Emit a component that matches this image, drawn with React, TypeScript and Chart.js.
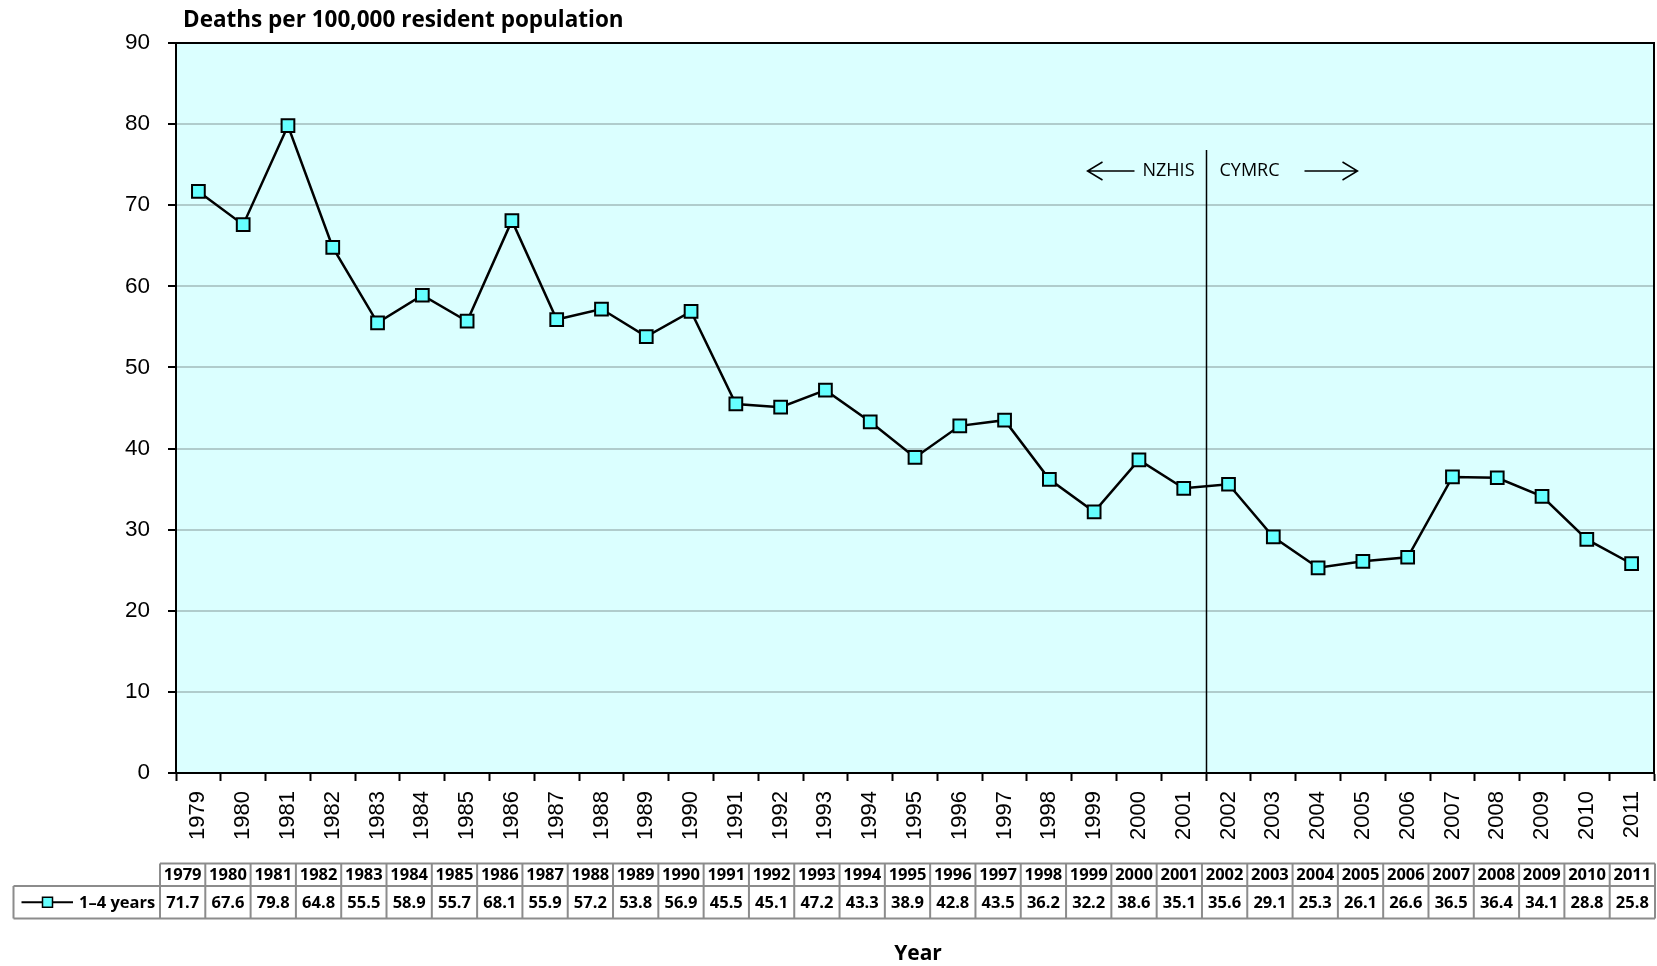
import React, { useEffect, useRef } from 'react';
import { Chart, registerables } from 'chart.js';

Chart.register(...registerables);

const years = ['1979','1980','1981','1982','1983','1984','1985','1986','1987','1988','1989','1990','1991','1992','1993','1994','1995','1996','1997','1998','1999','2000','2001','2002','2003','2004','2005','2006','2007','2008','2009','2010','2011'];
const deathRates = [71.7,67.6,79.8,64.8,55.5,58.9,55.7,68.1,55.9,57.2,53.8,56.9,45.5,45.1,47.2,43.3,38.9,42.8,43.5,36.2,32.2,38.6,35.1,35.6,29.1,25.3,26.1,26.6,36.5,36.4,34.1,28.8,25.8];
const seriesLabel = '1–4 years';
const yMin = 0;
const yMax = 90;
const yStep = 10;
const chartTitle = 'Deaths per 100,000 resident population';
const xTitle = 'Year';
const leftSource = 'NZHIS';
const rightSource = 'CYMRC';
const splitAfterYear = '2001';

const BOLD = '"Open Sans", "Noto Sans", sans-serif';
const TICK = '"Liberation Sans", Arial, sans-serif';

const decorPlugin = {
  id: 'decor',
  beforeDraw(chart: any) {
    const { ctx, chartArea: a } = chart;
    ctx.save();
    ctx.fillStyle = '#dbffff';
    ctx.fillRect(a.left, a.top, a.right - a.left, a.bottom - a.top);
    ctx.restore();
  },
  beforeDatasetsDraw(chart: any) {
    const { ctx, chartArea: a, scales } = chart;
    const xs = scales.x;
    const i = years.indexOf(splitAfterYear);
    const sx = Math.round((xs.getPixelForValue(i) + xs.getPixelForValue(i + 1)) / 2) + 0.5;
    ctx.save();
    ctx.strokeStyle = '#000';
    ctx.lineWidth = 1.5;
    ctx.beginPath();
    ctx.moveTo(sx, 150);
    ctx.lineTo(sx, a.bottom);
    ctx.stroke();
    ctx.fillStyle = '#000';
    ctx.font = '18px "Open Sans", sans-serif';
    ctx.textBaseline = 'middle';
    const ty = 171;
    ctx.textAlign = 'right';
    ctx.fillText(leftSource, sx - 12, ty);
    ctx.textAlign = 'left';
    ctx.fillText(rightSource, sx + 13, ty);
    ctx.lineWidth = 1.5;
    const drawArrow = (x1: number, x2: number, headAtX2: boolean) => {
      ctx.beginPath();
      ctx.moveTo(x1, ty);
      ctx.lineTo(x2, ty);
      const hx = headAtX2 ? x2 : x1;
      const d = headAtX2 ? -1 : 1;
      ctx.moveTo(hx + d * 15, ty - 9);
      ctx.lineTo(hx, ty);
      ctx.lineTo(hx + d * 15, ty + 9);
      ctx.stroke();
    };
    drawArrow(sx - 119, sx - 72, false);
    drawArrow(sx + 98, sx + 151, true);
    ctx.restore();
  },
  afterDraw(chart: any) {
    const { ctx, chartArea: a, data } = chart;
    ctx.save();
    ctx.strokeStyle = '#000';
    ctx.lineWidth = 2;
    ctx.strokeRect(a.left, a.top, a.right - a.left, a.bottom - a.top);
    ctx.fillStyle = '#000';
    ctx.font = 'bold 22.5px ' + BOLD;
    ctx.textAlign = 'left';
    ctx.textBaseline = 'middle';
    ctx.fillText(chartTitle, 183, 20.5);
    ctx.font = 'bold 21px ' + BOLD;
    ctx.textAlign = 'center';
    ctx.fillText(xTitle, (a.left + a.right) / 2 + 3, 954.5);
    const labels: string[] = data.labels;
    const vals: number[] = data.datasets[0].data;
    const n = labels.length;
    const tLeft = a.left - 16;
    const tRight = a.right + 1;
    const colW = (tRight - tLeft) / n;
    const r0 = 863.5, r1 = 886, r2 = 918.5;
    const legL = 13.5;
    ctx.strokeStyle = '#8c8c8c';
    ctx.lineWidth = 2;
    ctx.beginPath();
    ctx.moveTo(tLeft, r0); ctx.lineTo(tRight, r0);
    ctx.moveTo(legL, r1); ctx.lineTo(tRight, r1);
    ctx.moveTo(legL, r2); ctx.lineTo(tRight, r2);
    ctx.moveTo(legL, r1); ctx.lineTo(legL, r2);
    for (let i = 0; i <= n; i++) {
      const x = tLeft + i * colW;
      ctx.moveTo(x, r0); ctx.lineTo(x, r2);
    }
    ctx.stroke();
    ctx.fillStyle = '#000';
    ctx.font = 'bold 16.5px ' + BOLD;
    ctx.textAlign = 'center';
    ctx.textBaseline = 'middle';
    for (let i = 0; i < n; i++) {
      const cx = tLeft + (i + 0.5) * colW;
      ctx.fillText(labels[i], cx, (r0 + r1) / 2 + 1);
      ctx.fillText(vals[i].toFixed(1), cx, (r1 + r2) / 2 + 1);
    }
    const ly = (r1 + r2) / 2;
    ctx.strokeStyle = '#000';
    ctx.lineWidth = 2;
    ctx.beginPath();
    ctx.moveTo(21.5, ly); ctx.lineTo(73, ly);
    ctx.stroke();
    ctx.fillStyle = '#66ffff';
    ctx.fillRect(42.5, ly - 5, 10, 10);
    ctx.lineWidth = 1.5;
    ctx.strokeRect(42.5, ly - 5, 10, 10);
    ctx.fillStyle = '#000';
    ctx.textAlign = 'left';
    ctx.fillText(seriesLabel, 79, ly + 1);
    ctx.restore();
  }
};

export default function App() {
  const ref = useRef<HTMLCanvasElement | null>(null);
  useEffect(() => {
    document.body.style.margin = '0';
    const canvas = ref.current;
    if (!canvas) return;
    const chart = new Chart(canvas, {
      type: 'line',
      data: {
        labels: years,
        datasets: [{
          label: seriesLabel,
          data: deathRates,
          borderColor: '#000',
          borderWidth: 2.5,
          tension: 0,
          pointStyle: 'rect',
          pointRadius: 9,
          pointHoverRadius: 9,
          pointBackgroundColor: '#66ffff',
          pointBorderColor: '#000',
          pointBorderWidth: 2,
        }],
      },
      options: {
        animation: false,
        responsive: false,
        devicePixelRatio: 1,
        layout: { autoPadding: false, padding: { left: 0, right: 3, top: 43, bottom: 0 } },
        plugins: { legend: { display: false }, tooltip: { enabled: false }, title: { display: false } },
        scales: {
          x: {
            type: 'category',
            offset: true,
            afterFit(scale: any) { scale.height = 193; scale.paddingRight = 0; scale.paddingLeft = 0; },
            grid: { offset: true, drawOnChartArea: false, drawTicks: true, tickLength: 8, tickColor: '#000', tickWidth: 2 },
            border: { display: true, color: '#000', width: 2 },
            ticks: { minRotation: 90, maxRotation: 90, autoSkip: false, padding: 10, color: '#000', font: { family: TICK, size: 22 } },
          },
          y: {
            min: yMin,
            max: yMax,
            afterFit(scale: any) { scale.width = 176; scale.paddingTop = 0; scale.paddingBottom = 0; },
            grid: { color: '#b0cccc', lineWidth: 2, drawTicks: true, tickLength: 8, tickColor: '#000', tickWidth: 2 },
            border: { display: true, color: '#000', width: 2 },
            ticks: { stepSize: yStep, padding: 18, color: '#000', font: { family: TICK, size: 22.5 } },
          },
        },
      },
      plugins: [decorPlugin],
    });
    return () => chart.destroy();
  }, []);
  return (
    <div style={{ width: 1657, height: 966 }}>
      <canvas ref={ref} width={1657} height={966} style={{ display: 'block' }} />
    </div>
  );
}
